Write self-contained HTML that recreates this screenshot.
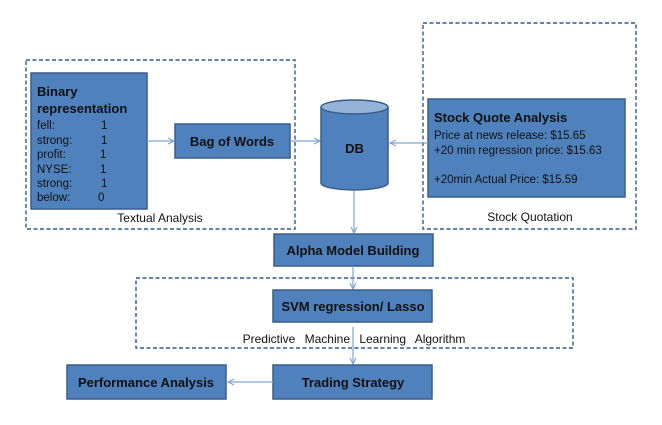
<!DOCTYPE html>
<html><head><meta charset="utf-8"><style>
html,body{margin:0;padding:0;background:#fff;}
svg{display:block;font-family:"Liberation Sans",sans-serif;}
.b{fill:#4f81bd;stroke:#385d8a;stroke-width:1.5;}
.d{fill:none;stroke:#2f5a8f;stroke-width:1.4;stroke-dasharray:4,2.5;}
.l{stroke:#7fa6d6;stroke-width:1.2;fill:none;}
.t{font-weight:bold;font-size:13px;fill:#111;text-anchor:middle;}
.s{font-size:11.5px;fill:#111;}
</style></head><body>
<svg width="662" height="425" viewBox="0 0 662 425">
<defs><marker id="a" markerWidth="8" markerHeight="8" refX="7" refY="4" orient="auto" markerUnits="userSpaceOnUse"><path d="M1,1 L7,4 L1,7" fill="none" stroke="#7fa6d6" stroke-width="1.2"/></marker></defs>
<rect class="d" x="26" y="60" width="269" height="169"/>
<rect class="d" x="423" y="23" width="213" height="206"/>
<rect class="d" x="136" y="278" width="437" height="70"/>
<rect class="b" x="31" y="73" width="116" height="136"/>
<text x="37" y="96" style="font-weight:bold;font-size:13px;fill:#111">Binary</text>
<text x="37" y="113" style="font-weight:bold;font-size:13px;fill:#111">representation</text>
<g class="s">
<text x="37" y="129">fell:</text><text x="101" y="129">1</text>
<text x="37" y="144">strong:</text><text x="101" y="144">1</text>
<text x="37" y="158">profit:</text><text x="100" y="158">1</text>
<text x="37" y="173">NYSE:</text><text x="100" y="173">1</text>
<text x="37" y="187">strong:</text><text x="101" y="187">1</text>
<text x="37" y="201">below:</text><text x="98" y="201">0</text>
</g>
<text x="160" y="222" class="s" style="font-size:12px" text-anchor="middle">Textual Analysis</text>
<rect class="b" x="175" y="124" width="115" height="34"/>
<text x="232" y="146" class="t">Bag of Words</text>
<line class="l" x1="147" y1="141" x2="174" y2="141" marker-end="url(#a)"/>
<line class="l" x1="290" y1="141" x2="320" y2="141" marker-end="url(#a)"/>
<path class="b" d="M321,107 L321,183 A33.5,7 0 0 0 388,183 L388,107"/>
<ellipse cx="354.5" cy="107" rx="33.5" ry="7" fill="#95b3d7" stroke="#385d8a" stroke-width="1.5"/>
<text x="354.5" y="153" class="t">DB</text>
<rect class="b" x="428" y="99" width="197" height="98"/>
<text x="434" y="122" style="font-weight:bold;font-size:13px;fill:#111">Stock Quote Analysis</text>
<g class="s"><text x="434" y="139">Price at news release: $15.65</text>
<text x="434" y="154">+20 min regression price: $15.63</text>
<text x="434" y="183">+20min Actual Price: $15.59</text></g>
<text x="530" y="221" class="s" style="font-size:12px" text-anchor="middle">Stock Quotation</text>
<line class="l" x1="428" y1="143" x2="390" y2="143" marker-end="url(#a)"/>
<line class="l" x1="354" y1="191" x2="354" y2="233" marker-end="url(#a)"/>
<rect class="b" x="274" y="234" width="159" height="32"/>
<text x="353" y="255" class="t">Alpha Model Building</text>
<line class="l" x1="353" y1="266" x2="353" y2="289" marker-end="url(#a)"/>
<rect class="b" x="273" y="290" width="159" height="32"/>
<text x="353" y="311" class="t">SVM regression/ Lasso</text>
<text x="354" y="343" class="s" style="font-size:12px;word-spacing:6px" text-anchor="middle">Predictive Machine Learning Algorithm</text>
<line class="l" x1="353" y1="327" x2="353" y2="364" marker-end="url(#a)"/>
<rect class="b" x="273" y="365" width="159" height="34"/>
<text x="353" y="387" class="t">Trading Strategy</text>
<rect class="b" x="67" y="365" width="159" height="34"/>
<text x="146" y="387" class="t">Performance Analysis</text>
<line class="l" x1="273" y1="382" x2="228" y2="382" marker-end="url(#a)"/>
</svg>
</body></html>
